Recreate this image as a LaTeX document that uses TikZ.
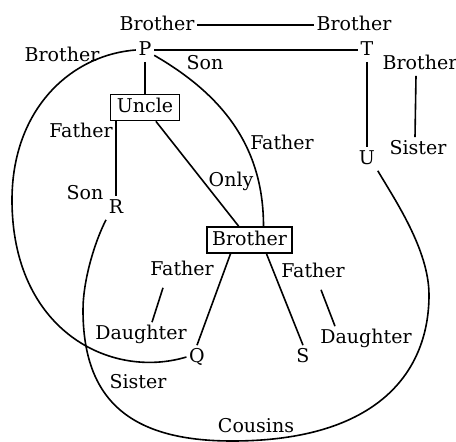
\documentclass[tikz,border=0pt]{standalone}
\usepackage{fontspec}
\setmainfont{DejaVu Serif}
\usetikzlibrary{calc}
\tikzset{
  every picture/.style={line width=1.6pt},
  lbl/.style={font=\fontsize{19}{21}\selectfont, inner sep=2pt, text height=14pt, text depth=4pt},
  box/.style={lbl, draw, line width=1.6pt, minimum height=26pt},
}

\begin{document}
\begin{tikzpicture}[x=1pt, y=-1pt]
  \useasboundingbox (0,0) rectangle (456,442);
  % top row
  \node[lbl] (b1) at (157,25) {Brother};
  \node[lbl] (b2) at (354,25) {Brother};
  \node[lbl] (bl) at (62,56) {Brother};
  \node[lbl] (p) at (145,50) {P};
  \node[lbl] (t) at (367,50) {T};
  \node[lbl] (son1) at (205,64) {Son};
  \node[lbl] (br) at (420,64) {Brother};
  \node[lbl] (sis1) at (418,149) {Sister};
  \node[lbl] (u) at (367,159) {U};
  % middle
  \node[box, minimum width=69pt] (uncle) at (145,107.5) {Uncle};
  \node[lbl] (f1) at (81,132) {Father};
  \node[lbl] (son2) at (85,194) {Son};
  \node[lbl] (r) at (116,208) {R};
  \node[lbl] (f2) at (282,144) {Father};
  \node[lbl] (only) at (231,181) {Only};
  \node[box, minimum width=85pt] (brother) at (249.5,240) {Brother};
  % bottom
  \node[lbl] (f3) at (182,270) {Father};
  \node[lbl] (f4) at (313,272) {Father};
  \node[lbl] (d1) at (141,334) {Daughter};
  \node[lbl] (d2) at (366,338) {Daughter};
  \node[lbl] (q) at (197,357) {Q};
  \node[lbl] (s) at (303,357) {S};
  \node[lbl] (sis2) at (138,383) {Sister};
  \node[lbl] (cous) at (256,427) {Cousins};

  \draw (b1) -- (b2);
  \draw (p) -- (t);
  \draw (p) -- (uncle);
  \draw (t) -- (u);
  \draw ([xshift=-4pt]br.south) -- ([xshift=-3pt]sis1.north);
  \draw (uncle.south -| r) -- (r.north);
  \draw (uncle) -- (brother);
  \draw (p.-30) to[out=-30, in=90] ([xshift=14pt]brother.north);
  \draw (p.west) .. controls (70,55) and (12,110) .. (12,200)
    .. controls (12,330) and (110,380) .. (q.west);
  \draw ([xshift=-19pt]brother.south) -- (q.north);
  \draw ([xshift=17pt]brother.south) -- (s.north);
  \draw ([xshift=-19pt, yshift=-6pt]f3.south) -- ([xshift=11pt]d1.north);
  \draw ([xshift=8pt, yshift=-6pt]f4.south) -- ([xshift=-31pt]d2.north);
  % cousins loop
  \draw (r.south west) .. controls (95,241) and (83,280) .. (83,310)
    .. controls (83,400) and (130,441) .. (232,441)
    .. controls (380,441) and (429,370) .. (429,295)
    .. controls (429,250) and (395,200) .. (u.south east);
\end{tikzpicture}
\end{document}
